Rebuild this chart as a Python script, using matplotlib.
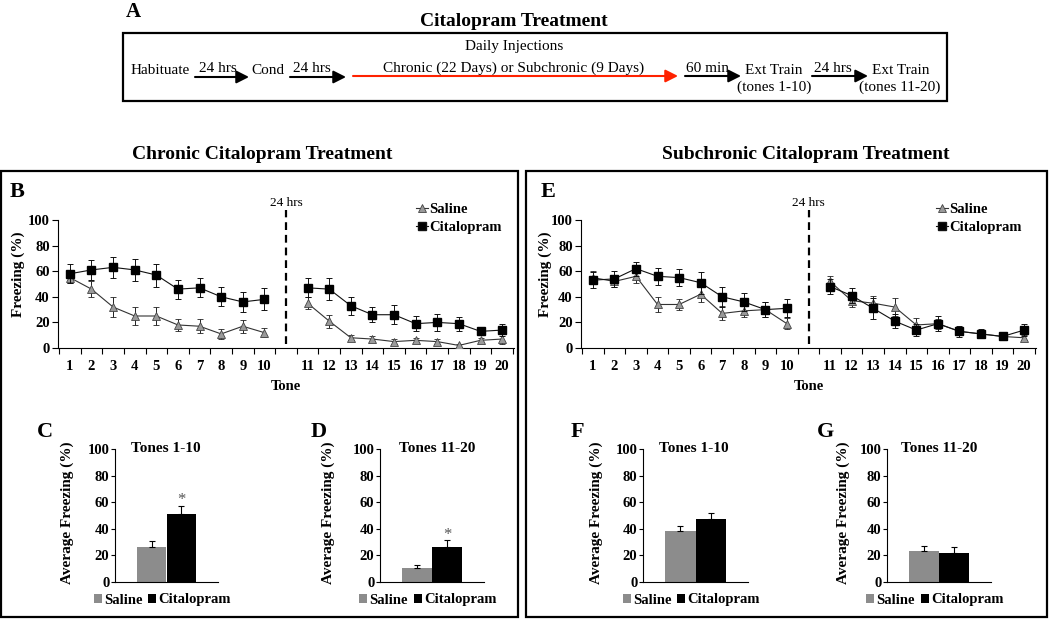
#!/usr/bin/env python

# Citalopram fear extinction figure: timeline (A), tone-by-tone freezing (B, E)
# and average freezing bars (C, D, F, G).

import matplotlib
matplotlib.use('Agg')
import matplotlib.pyplot as plt
from matplotlib.patches import Rectangle, Patch
from matplotlib.lines import Line2D
import numpy

# ---- data ----
tones = list(range(1, 21))

chronic_saline = [55, 46, 32, 25, 25, 18, 17, 11, 17, 12,
                  35, 21, 8, 7, 5, 6, 5, 2, 6, 7]
chronic_saline_err = [4, 6, 7.5, 7, 7, 5, 5.5, 4, 5, 3.5,
                      4.5, 5, 2, 2.5, 2, 2, 2, 1, 2, 4]
chronic_cit = [58, 61, 63, 61, 57, 46, 47, 40, 36, 38,
               47, 46, 33, 26, 26, 19, 20, 19, 13, 14]
chronic_cit_err = [7.5, 8, 8, 8.5, 9, 7.5, 7.5, 7.5, 8, 8.5,
                   7.5, 8.5, 7, 6, 7.5, 6, 6.5, 5.5, 3, 4.5]

sub_saline = [55, 52, 56, 34, 34, 42, 27, 29, 30, 19,
              52, 37, 35, 32, 18, 19, 13, 11, 9, 8]
sub_saline_err = [5, 4.5, 5, 6, 4.5, 6, 5.5, 5, 6, 4.5,
                  4.5, 5, 6, 7, 5.5, 4, 3, 3, 3, 2]
sub_cit = [53, 54, 62, 56, 55, 51, 40, 36, 30, 31,
           48, 41, 31, 21, 14, 19, 13, 11, 9, 14]
sub_cit_err = [6, 6, 5.5, 6.5, 6.5, 8.5, 8, 7, 6, 7,
               6, 6, 8, 5.5, 5, 6, 4.5, 3.5, 3, 5]

groups = ['Saline', 'Citalopram']
avg_C = [26, 51]
avg_C_err = [4.5, 6.5]
avg_D = [10.5, 26.5]
avg_D_err = [2, 5]
avg_F = [38, 47]
avg_F_err = [4, 5]
avg_G = [23.5, 22]
avg_G_err = [3.5, 4]

# ---- styling ----
plt.rcParams['font.family'] = ['Liberation Serif', 'DejaVu Serif']
plt.rcParams['font.weight'] = 'bold'
plt.rcParams['axes.linewidth'] = 0.8

GREY = '#8c8c8c'
TRI = '#9a9a9a'
W, H = 1050, 619

fig = plt.figure(figsize=(W/100, H/100), dpi=100, facecolor='white')

def rect(l, t, r, b):
    return [l/W, 1-b/H, (r-l)/W, (b-t)/H]

# overlay in pixel units for the diagram, frames and labels
ov = fig.add_axes([0, 0, 1, 1])
ov.set_xlim(0, W)
ov.set_ylim(H, 0)
ov.set_axis_off()

def arrow(x0, x1, y, color='k'):
    ov.annotate('', xy=(x1, y), xytext=(x0, y),
                arrowprops=dict(arrowstyle='-|>,head_length=0.75,head_width=0.38',
                                mutation_scale=10, lw=1.5, color=color,
                                shrinkA=0, shrinkB=0))

# ---- panel A ----
ov.text(133, 17, 'A', fontsize=15, ha='center', va='baseline')
ov.text(514, 26, 'Citalopram Treatment', fontsize=14, ha='center', va='baseline')
ov.add_patch(Rectangle((123, 33), 824, 68, fill=False, lw=1.6, ec='k', clip_on=False))
dt = dict(fontsize=11, fontweight='normal', va='baseline')
ov.text(160, 74, 'Habituate', ha='center', **dt)
arrow(195, 249, 77)
ov.text(218, 72, '24 hrs', ha='center', **dt)
ov.text(268, 74, 'Cond', ha='center', **dt)
arrow(290, 346, 77)
ov.text(312, 72, '24 hrs', ha='center', **dt)
arrow(353, 678, 76, color='#ff2200')
ov.text(514, 50, 'Daily Injections', ha='center', **dt)
ov.text(514, 72, 'Chronic (22 Days) or Subchronic (9 Days)', ha='center', **dt)
arrow(685, 741, 76)
ov.text(707, 72, '60 min', ha='center', **dt)
ov.text(774, 74, 'Ext Train', ha='center', **dt)
ov.text(774, 91, '(tones 1-10)', ha='center', **dt)
arrow(812, 868, 76)
ov.text(833, 72, '24 hrs', ha='center', **dt)
ov.text(901, 74, 'Ext Train', ha='center', **dt)
ov.text(900, 91, '(tones 11-20)', ha='center', **dt)

# ---- frames and section titles ----
ov.text(262, 159, 'Chronic Citalopram Treatment', fontsize=14, ha='center', va='baseline')
ov.text(806, 159, 'Subchronic Citalopram Treatment', fontsize=14, ha='center', va='baseline')
ov.add_patch(Rectangle((1, 171), 517, 446, fill=False, lw=1.6, ec='k', clip_on=False))
ov.add_patch(Rectangle((526, 171), 521, 446, fill=False, lw=1.6, ec='k', clip_on=False))

for letter, x, y in [('B', 17, 197), ('E', 548, 197), ('C', 45, 437),
                     ('D', 319, 437), ('F', 577, 437), ('G', 826, 437)]:
    ov.text(x, y, letter, fontsize=16, ha='center', va='baseline')

# ---- line panels ----
pos = numpy.array([t - 1 if t <= 10 else t for t in tones])

def line_panel(left, right, sal, sal_err, cit, cit_err, leg_x, ylab_x):
    ax = fig.add_axes(rect(left, 220, right, 348))
    ax.set_facecolor('none')
    sal, sal_err = numpy.array(sal), numpy.array(sal_err)
    cit, cit_err = numpy.array(cit), numpy.array(cit_err)
    for seg in (slice(0, 10), slice(10, 20)):
        ax.errorbar(pos[seg], sal[seg], yerr=sal_err[seg], color='#333333', lw=0.8,
                    marker='^', ms=6, mfc=TRI, mec='#444444', mew=0.6,
                    ecolor='#222222', elinewidth=0.7, capsize=2, capthick=0.7, zorder=3)
        ax.errorbar(pos[seg], cit[seg], yerr=cit_err[seg], color='#111111', lw=0.8,
                    marker='s', ms=6, mfc='black', mec='black',
                    ecolor='#111111', elinewidth=0.7, capsize=2, capthick=0.7, zorder=4)
    ax.plot([10, 10], [3, 108], color='k', lw=1.6, ls=(0, (3.5, 2.2)), clip_on=False)
    ax.text(10, 113, '24 hrs', ha='center', va='center', fontsize=9.5, fontweight='normal')
    ax.set_xlim(-0.55, 20.55)
    ax.set_ylim(0, 100)
    ax.set_xticks(pos)
    ax.set_xticklabels(tones)
    ax.set_xticks(numpy.arange(-0.5, 21, 1), minor=True)
    ax.tick_params(axis='x', which='major', length=0, pad=9, labelsize=10.5)
    ax.tick_params(axis='x', which='minor', length=4, direction='out', width=0.8)
    ax.set_yticks(range(0, 101, 20))
    ax.tick_params(axis='y', length=4, direction='out', width=0.8, pad=2, labelsize=10.5)
    for s in ('top', 'right'):
        ax.spines[s].set_visible(False)
    handles = [Line2D([], [], color='#333333', lw=0.8, marker='^', ms=6, mfc=TRI,
                      mec='#444444', mew=0.6),
               Line2D([], [], color='#111111', lw=0.8, marker='s', ms=6, mfc='black')]
    ax.legend(handles, groups, loc='upper left', bbox_to_anchor=(leg_x/W, 1-203/H),
              bbox_transform=fig.transFigure, frameon=False, borderpad=0, borderaxespad=0,
              handlelength=0.8, handletextpad=0.1, labelspacing=0.3,
              prop={'weight': 'bold', 'size': 10.5})
    ov.text(ylab_x, 274, 'Freezing (%)', rotation=90, ha='center', va='center', fontsize=11)
    ov.text((left + right)/2, 386, 'Tone', ha='center', va='center', fontsize=10.5)
    return ax

line_panel(58, 514, chronic_saline, chronic_saline_err, chronic_cit, chronic_cit_err, 416, 18)
line_panel(581, 1036, sub_saline, sub_saline_err, sub_cit, sub_cit_err, 936, 545)

# ---- bar panels ----
def bar_panel(left, right, vals, errs, title, title_x, ylab_x, star):
    ax = fig.add_axes(rect(left, 449, right, 582))
    ax.set_facecolor('none')
    ax.bar([0, 1], vals, width=1, color=[GREY, 'black'],
           yerr=[[0, 0], errs],
           error_kw=dict(ecolor='black', elinewidth=0.8, capsize=2, capthick=0.8))
    ax.set_xlim(-1.22, 2.22)
    ax.set_ylim(0, 100)
    ax.set_xticks([])
    ax.set_yticks(range(0, 101, 20))
    ax.tick_params(axis='y', length=3, direction='out', width=0.8, pad=1, labelsize=10.5)
    for s in ('top', 'right'):
        ax.spines[s].set_visible(False)
    if star:
        ax.text(1, vals[1] + errs[1] + 1, '*', ha='center', va='baseline',
                fontsize=12, fontweight='normal', color='#555555')
    ax.legend([Patch(fc=GREY), Patch(fc='black')], groups, loc='center',
              bbox_to_anchor=(((left + right)/2 - 4)/W, 1-600/H),
              bbox_transform=fig.transFigure, ncol=2, frameon=False, borderpad=0,
              handlelength=0.55, handleheight=0.55, handletextpad=0.15,
              columnspacing=0.4, prop={'weight': 'bold', 'size': 10.5})
    ov.text(title_x, 452, title, ha='center', va='baseline', fontsize=11)
    ov.text(ylab_x, 513, 'Average Freezing (%)', rotation=90, ha='center',
            va='center', fontsize=11)
    return ax

bar_panel(115, 218, avg_C, avg_C_err, 'Tones 1-10', 166, 67, True)
bar_panel(380, 484, avg_D, avg_D_err, 'Tones 11-20', 437, 328, True)
bar_panel(643, 748, avg_F, avg_F_err, 'Tones 1-10', 694, 596, False)
bar_panel(887, 991, avg_G, avg_G_err, 'Tones 11-20', 939, 843, False)

fig.savefig('out.png', dpi=100)
